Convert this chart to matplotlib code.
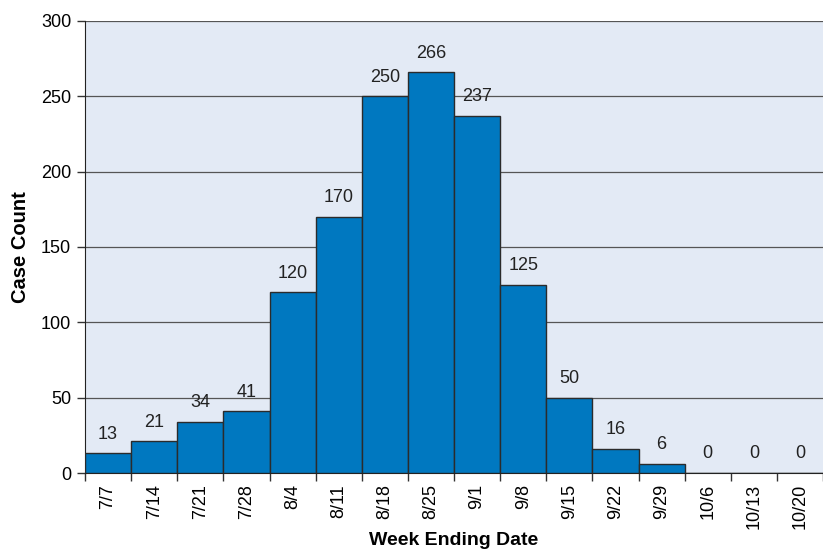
import matplotlib.pyplot as plt
import numpy as np

plt.rcParams['font.family'] = ['Liberation Sans', 'DejaVu Sans']

weeks = ['7/7', '7/14', '7/21', '7/28', '8/4', '8/11', '8/18', '8/25', '9/1',
         '9/8', '9/15', '9/22', '9/29', '10/6', '10/13', '10/20']
cases = [13, 21, 34, 41, 120, 170, 250, 266, 237, 125, 50, 16, 6, 0, 0, 0]

fig = plt.figure(figsize=(8.23, 5.52), dpi=100)
ax = fig.add_axes([0.1033, 0.1431, 0.8967, 0.8189])
ax.set_facecolor('#E3EAF5')

x = np.arange(len(weeks))
ax.bar(x, cases, width=1.0, color='#0078C0', edgecolor='#2b2b2b', linewidth=1.0, zorder=3)

# value labels over bars
for xi, v in zip(x, cases):
    ax.text(xi, v + 7, str(v), ha='center', va='bottom', fontsize=13, color='#222222')

ax.set_xlim(-0.5, len(weeks) - 0.5)
ax.set_ylim(0, 300)
ax.set_yticks(np.arange(0, 301, 50))
ax.yaxis.grid(True, color='#555555', linewidth=0.9, zorder=1)
ax.set_axisbelow(True)

ax.set_xticks(x)
ax.set_xticklabels(weeks, rotation=90, fontsize=13)
ax.set_xticks(np.arange(-0.5, len(weeks)), minor=True)
ax.tick_params(axis='x', which='major', length=0, pad=8)
ax.tick_params(axis='x', which='minor', length=6, width=1.0, color='#333333')
ax.tick_params(axis='y', length=6, width=1.0, labelsize=13, color='#333333', pad=4)

for s in ['top', 'right']:
    ax.spines[s].set_visible(False)
ax.spines['left'].set_color('#222222')
ax.spines['bottom'].set_color('#222222')

ax.set_ylabel('Case Count', fontsize=14.5, fontweight='bold', labelpad=8)
ax.set_xlabel('Week Ending Date', fontsize=14, fontweight='bold', labelpad=2)

fig.savefig('out.png', dpi=100)
